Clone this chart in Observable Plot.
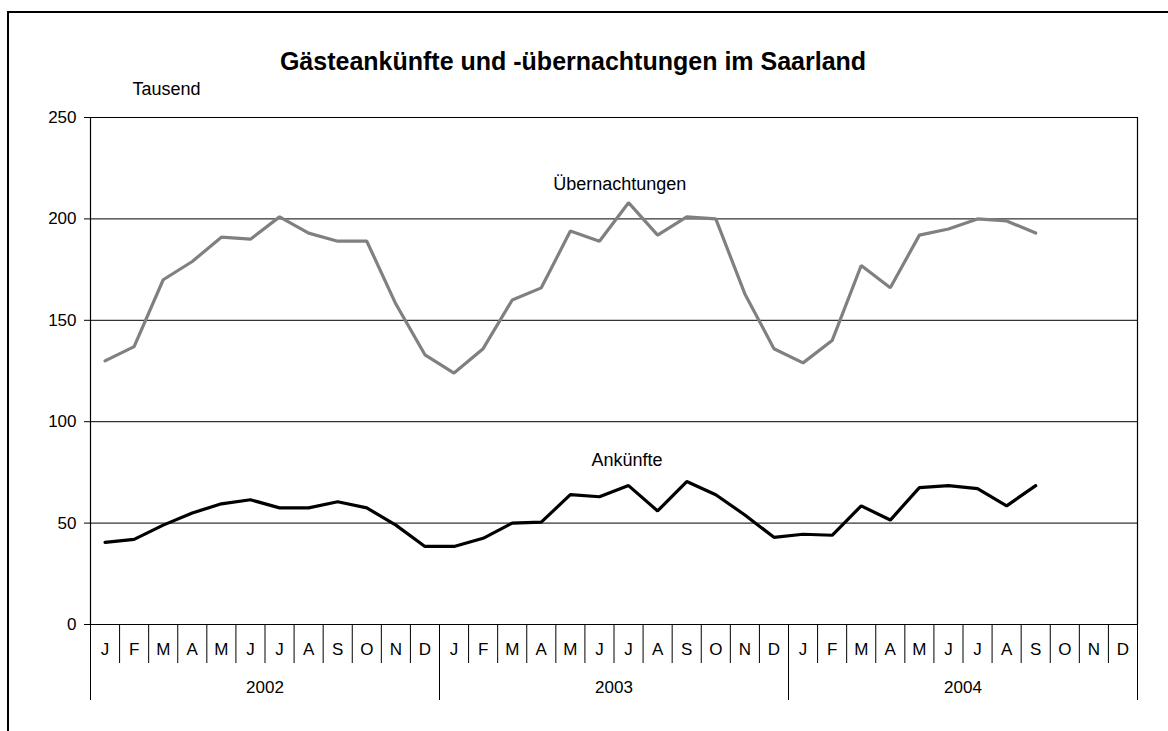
<!DOCTYPE html>
<html>
<head>
<meta charset="utf-8">
<script src="https://cdn.jsdelivr.net/npm/d3@7"></script>
<script src="https://cdn.jsdelivr.net/npm/@observablehq/plot@0.6"></script>
<style>
  html, body { margin: 0; padding: 0; background: #fff; overflow: hidden; }
  #wrap { position: relative; width: 1168px; height: 731px; }
  #border { position: absolute; left: 7px; top: 11px; width: 1200px; height: 800px;
            border-left: 2px solid #000; border-top: 2px solid #000; pointer-events: none; }
  svg { display: block; }
</style>
</head>
<body>
<div id="wrap"><div id="chart"></div><div id="border"></div></div>
<script>
const title = "Gästeankünfte und -übernachtungen im Saarland";
const unitLabel = "Tausend";
const monthLetters = ["J","F","M","A","M","J","J","A","S","O","N","D"];
const years = [2002, 2003, 2004];
const yTicks = [0, 50, 100, 150, 200, 250];

// Monthly values (thousands), Jan 2002 – Sep 2004
const uebernachtungen = [130, 137, 170, 179, 191, 190, 201, 193, 189, 189, 158, 133,
                         124, 136, 160, 166, 194, 189, 208, 192, 201, 200, 163, 136,
                         129, 140, 177, 166, 192, 195, 200, 199, 193];
const ankuenfte = [40.5, 42, 49, 55, 59.5, 61.5, 57.5, 57.5, 60.5, 57.5, 49, 38.5,
                   38.5, 42.5, 50, 50.5, 64, 63, 68.5, 56, 70.5, 64, 54, 43,
                   44.5, 44, 58.5, 51.5, 67.5, 68.5, 67, 58.5, 68.5];

const seriesLabels = [
  {name: "Übernachtungen", t: 18.2, v: 217},
  {name: "Ankünfte", t: 18.45, v: 81}
];

const nMonths = years.length * 12;
const toRows = arr => arr.map((v, i) => ({t: i + 0.5, v}));
const font = "'Liberation Sans', Arial, Helvetica, sans-serif";

const chart = Plot.plot({
  width: 1168,
  height: 731,
  marginLeft: 90,
  marginRight: 31,
  marginTop: 117,
  marginBottom: 107,
  style: {fontFamily: font, fontSize: "17px", color: "#000", background: "transparent", overflow: "visible"},
  x: {domain: [0, nMonths], axis: null},
  y: {domain: [0, 250], axis: null},
  marks: [
    Plot.ruleY(yTicks.filter(d => d > 0), {stroke: "#000", strokeWidth: 1}),
    Plot.ruleY([0], {stroke: "#000", strokeWidth: 1.2}),
    Plot.ruleX([0, nMonths], {stroke: "#000", strokeWidth: 1.2}),
    // y axis ticks & labels
    Plot.axisY({ticks: yTicks, tickSize: 6, tickPadding: 8, fontSize: 17, stroke: "#000", label: null}),
    // month dividers
    Plot.axisX({ticks: d3.range(nMonths + 1), tickSize: 39, tickFormat: () => "", stroke: "#000", label: null}),
    // year dividers
    Plot.axisX({ticks: d3.range(years.length + 1).map(i => i * 12), tickSize: 76, tickFormat: () => "", stroke: "#000", label: null}),
    // month letters
    Plot.axisX({ticks: d3.range(nMonths).map(i => i + 0.5), tickSize: 0, tickPadding: 18, fontSize: 17, label: null,
                tickFormat: d => monthLetters[Math.floor(d) % 12]}),
    // year labels
    Plot.axisX({ticks: years.map((y, i) => i * 12 + 6), tickSize: 0, tickPadding: 56, fontSize: 17, label: null,
                tickFormat: d => String(years[Math.floor(d / 12)])}),
    // series
    Plot.line(toRows(uebernachtungen), {x: "t", y: "v", stroke: "#808080", strokeWidth: 3.2, strokeLinejoin: "miter"}),
    Plot.line(toRows(ankuenfte), {x: "t", y: "v", stroke: "#000", strokeWidth: 3.2, strokeLinejoin: "miter"}),
    Plot.text(seriesLabels, {x: "t", y: "v", text: "name", fontSize: 18, fill: "#000"}),
    // title & unit
    Plot.text([title], {frameAnchor: "top", dx: -41, dy: -56, fontSize: 25, fontWeight: "bold", fill: "#000", lineAnchor: "middle"}),
    Plot.text([unitLabel], {frameAnchor: "top-left", dx: 42, dy: -28, textAnchor: "start", fontSize: 18, fill: "#000", lineAnchor: "middle"})
  ]
});
document.getElementById("chart").appendChild(chart);
</script>
</body>
</html>
